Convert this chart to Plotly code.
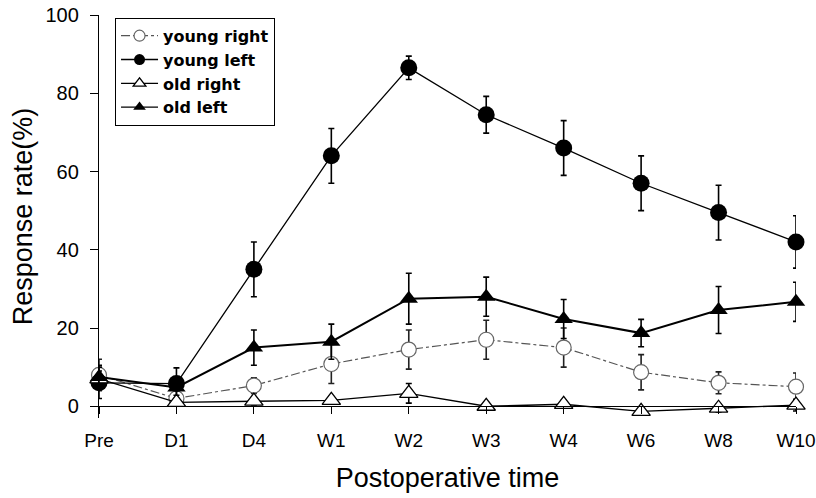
import plotly.graph_objects as go

categories = ["Pre", "D1", "D4", "W1", "W2", "W3", "W4", "W6", "W8", "W10"]

young_right = [8, 2, 5.3, 10.8, 14.5, 17, 15, 8.7, 6, 5]
young_right_err = [4, 1.5, 2, 5, 5, 5, 5, 4.5, 2.8, 3.5]

young_left = [6, 5.8, 35, 64, 86.5, 74.5, 66, 57, 49.5, 42]
young_left_err = [4, 4, 7, 7, 3, 4.7, 7, 7, 7, 6.7]

old_right = [7, 1, 1.3, 1.5, 3.3, 0, 0.5, -1.3, -0.5, 0.3]
old_right_err = [2, 1, 1, 1, 2.5, 1, 1, 1, 1, 1.5]

old_left = [7.5, 4.8, 15, 16.5, 27.5, 28, 22.3, 18.7, 24.6, 26.7]
old_left_err = [3, 2, 4.5, 4.5, 6.5, 5, 5, 3.5, 6, 5]

x = list(range(len(categories)))
FONT = "Liberation Sans, Arial, sans-serif"
LEGEND_FONT = "DejaVu Sans, Liberation Sans, Arial, sans-serif"

fig = go.Figure()

def err(arr, color="black"):
    return dict(type="data", array=arr, visible=True, color=color, thickness=1.6, width=3)

styles = {
    "young right": dict(line=dict(color="#555555", width=1.2, dash="dashdot"),
                        marker=dict(symbol="circle", size=15, color="white", line=dict(color="#666666", width=1.2)),
                        ecolor="#222222"),
    "young left": dict(line=dict(color="black", width=1.3),
                       marker=dict(symbol="circle", size=17, color="black"), ecolor="black"),
    "old right": dict(line=dict(color="black", width=1.4),
                      marker=dict(symbol="triangle-up", size=16, color="white", line=dict(color="black", width=1.3)),
                      ecolor="black"),
    "old left": dict(line=dict(color="black", width=2),
                     marker=dict(symbol="triangle-up", size=16, color="black"), ecolor="black"),
}
series = [("young right", young_right, young_right_err),
          ("young left", young_left, young_left_err),
          ("old right", old_right, old_right_err),
          ("old left", old_left, old_left_err)]

for name, vals, errs in series:
    st = styles[name]
    fig.add_trace(go.Scatter(
        x=x, y=vals, name=name, mode="lines+markers", showlegend=False,
        line=st["line"], marker=st["marker"],
        error_y=err(errs, st["ecolor"]), cliponaxis=False))

# legend entries with smaller symbols (as in the reference legend)
for name, vals, errs in series:
    st = styles[name]
    m = dict(st["marker"])
    m["size"] = 11
    ln = dict(st["line"])
    ln["width"] = 1.3
    fig.add_trace(go.Scatter(
        x=[None], y=[None], name=name, mode="lines+markers", showlegend=True,
        line=ln, marker=m))

ymin, ymax = -3, 100

fig.update_layout(
    width=816, height=498,
    margin=dict(l=99, r=20, t=15, b=80, autoexpand=False),
    paper_bgcolor="white", plot_bgcolor="white",
    font=dict(family=FONT, color="black"),
    showlegend=True,
    legend=dict(
        x=0.023, y=0.993, xanchor="left", yanchor="top",
        bgcolor="white", bordercolor="black", borderwidth=1,
        font=dict(family=LEGEND_FONT, size=16, color="black", weight="bold"),
        tracegroupgap=0, itemwidth=37,
    ),
    xaxis=dict(
        range=[0, 9.0], tickmode="array", tickvals=x, ticktext=categories,
        showgrid=False, zeroline=False, showline=True, linecolor="black", linewidth=1.3,
        ticks="outside", ticklen=7, tickcolor="black", tickwidth=1,
        anchor="free", position=(0 - ymin) / (ymax - ymin),
        ticklabelstandoff=10, automargin=False,
        tickfont=dict(family=FONT, size=19, color="black"),
        title=dict(text="Postoperative time", font=dict(family=FONT, size=27, color="black"), standoff=17),
    ),
    yaxis=dict(
        range=[ymin, ymax], tickmode="array", tickvals=[0, 20, 40, 60, 80, 100],
        showgrid=False, zeroline=False, showline=True, linecolor="black", linewidth=1.3,
        ticks="outside", ticklen=8, tickcolor="black", tickwidth=1,
        ticklabelstandoff=7, automargin=False,
        tickfont=dict(family=FONT, size=20, color="black"),
        title=dict(text="Response rate(%)", font=dict(family=FONT, size=27, color="black"), standoff=5),
    ),
)

fig.write_html("out.html", config={"displayModeBar": False},
               post_script="document.body.style.margin='0';document.body.style.overflow='hidden';")
